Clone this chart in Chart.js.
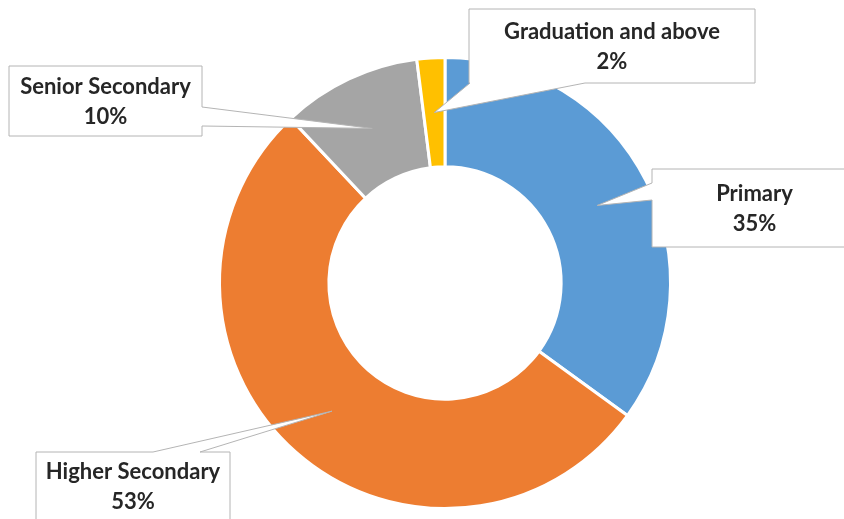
<!DOCTYPE html>
<html>
<head>
<meta charset="utf-8">
<script src="https://cdn.jsdelivr.net/npm/chart.js@4.4.1/dist/chart.umd.min.js"></script>
<style>
  html, body { margin: 0; padding: 0; background: #fff; }
</style>
</head>
<body>
<canvas id="eduChart" width="844" height="519"></canvas>
<script>
// Share of respondents by education level
const levels = ['Primary', 'Higher Secondary', 'Senior Secondary', 'Graduation and above'];
const shares = [35, 53, 10, 2];
const sliceColors = ['#5B9BD5', '#ED7D31', '#A5A5A5', '#FFC000'];

// Callout boxes [x, y, w, h]; the pointer leaves from `base` on `side`
const callouts = [
  { box: [652, 169, 205, 78], side: 'left', base: [183, 200] },
  { box: [36, 452, 194, 68], side: 'top', base: [153, 200] },
  { box: [9, 66, 193, 70], side: 'right', base: [107, 126] },
  { box: [469, 9, 286, 74], side: 'bottom', base: [470, 585] }
];

function calloutPath(ctx, c, tip) {
  const [x, y, w, h] = c.box;
  const [b0, b1] = c.base;
  ctx.beginPath();
  ctx.moveTo(x, y);
  if (c.side === 'top') {
    ctx.lineTo(b0, y); ctx.lineTo(tip.x, tip.y); ctx.lineTo(b1, y);
  }
  ctx.lineTo(x + w, y);
  if (c.side === 'right') {
    ctx.lineTo(x + w, b0); ctx.lineTo(tip.x, tip.y); ctx.lineTo(x + w, b1);
  }
  ctx.lineTo(x + w, y + h);
  if (c.side === 'bottom') {
    ctx.lineTo(b1, y + h); ctx.lineTo(tip.x, tip.y); ctx.lineTo(b0, y + h);
  }
  ctx.lineTo(x, y + h);
  if (c.side === 'left') {
    ctx.lineTo(x, b1); ctx.lineTo(tip.x, tip.y); ctx.lineTo(x, b0);
  }
  ctx.closePath();
}

const calloutPlugin = {
  id: 'callouts',
  afterDatasetsDraw(chart) {
    const ctx = chart.ctx;
    const arcs = chart.getDatasetMeta(0).data;
    const total = shares.reduce((a, b) => a + b, 0);
    ctx.save();
    arcs.forEach((arc, i) => {
      const c = callouts[i];
      const tip = arc.tooltipPosition();
      calloutPath(ctx, c, tip);
      ctx.fillStyle = '#ffffff';
      ctx.fill();
      ctx.lineWidth = 1;
      ctx.strokeStyle = '#b4b4b4';
      ctx.stroke();

      const [x, y, w, h] = c.box;
      const cx = x + w / 2;
      const cy = y + h / 2;
      ctx.fillStyle = '#262626';
      ctx.font = 'bold 22px Lato, "Open Sans", sans-serif';
      ctx.textAlign = 'center';
      ctx.textBaseline = 'middle';
      ctx.fillText(levels[i], cx, cy - 14);
      ctx.fillText(Math.round(shares[i] / total * 100) + '%', cx, cy + 16);
    });
    ctx.restore();
  }
};

new Chart(document.getElementById('eduChart'), {
  type: 'doughnut',
  data: {
    labels: levels,
    datasets: [{
      data: shares,
      backgroundColor: sliceColors,
      borderColor: '#ffffff',
      borderWidth: 3
    }]
  },
  options: {
    responsive: false,
    animation: false,
    cutout: '51.5%',
    layout: {
      padding: { left: 218, right: 172, top: 56, bottom: 9 }
    },
    plugins: {
      legend: { display: false },
      tooltip: { enabled: false }
    }
  },
  plugins: [calloutPlugin]
});
</script>
</body>
</html>
